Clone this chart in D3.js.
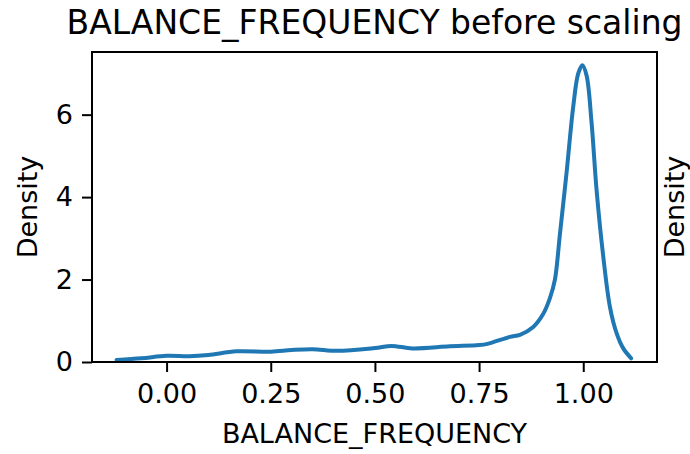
<!DOCTYPE html>
<html>
<head>
<meta charset="utf-8">
<script src="https://cdn.jsdelivr.net/npm/d3@7"></script>
<style>
  body { margin: 0; background: #fff; }
  svg { display: block; }
  text { font-family: "DejaVu Sans", sans-serif; fill: #000; }
</style>
</head>
<body>
<div id="chart"></div>
<script>
// kde curve
const xs = [-0.12, -0.06, 0.00, 0.055, 0.10, 0.168, 0.25, 0.30, 0.35, 0.41, 0.50, 0.54, 0.59, 0.68, 0.75, 0.77,
  0.824, 0.848, 0.88, 0.903, 0.92, 0.932, 0.944, 0.96, 0.976, 0.988, 0.998, 1.008, 1.02, 1.032, 1.048, 1.064,
  1.08, 1.096, 1.115]
const density = [0.05, 0.09, 0.15, 0.14, 0.17, 0.26, 0.25, 0.29, 0.31, 0.27, 0.34, 0.39, 0.33, 0.38, 0.41, 0.44,
  0.61, 0.66, 0.85, 1.15, 1.55, 2.0, 3.1, 4.6, 6.2, 7.0, 7.2, 6.95, 5.8, 4.17, 2.56, 1.34,
  0.70, 0.33, 0.09]
const xTicks = [0, 0.25, 0.5, 0.75, 1.0]
const yTicks = [0, 2, 4, 6]

const title = 'BALANCE_FREQUENCY before scaling'
const xLabel = 'BALANCE_FREQUENCY'
const yLabel = 'Density'

let width = 690
let height = 454
let margin = {top: 52, right: 33, bottom: 92, left: 92}
let innerW = width - margin.left - margin.right
let innerH = height - margin.top - margin.bottom

let x = d3.scaleLinear().domain([-0.179, 1.177]).range([0, innerW])
let y = d3.scaleLinear().domain([0, 7.52]).range([innerH, 0])

let svg = d3.select('#chart').append('svg')
    .attr('width', width)
    .attr('height', height)

let g = svg.append('g')
    .attr('transform', 'translate(' + margin.left + ',' + margin.top + ')')

let pts = xs.map((v, i) => [v, density[i]])

let line = d3.line()
    .x(d => x(d[0]))
    .y(d => y(d[1]))
    .curve(d3.curveCatmullRom.alpha(0.5))

g.append('path')
    .datum(pts)
    .attr('fill', 'none')
    .attr('stroke', '#1f77b4')
    .attr('stroke-width', 4)
    .attr('stroke-linejoin', 'round')
    .attr('stroke-linecap', 'round')
    .attr('d', line)

// axes
let xAxis = d3.axisBottom(x).tickValues(xTicks).tickFormat(d3.format('.2f'))
    .tickSize(10).tickSizeOuter(0).tickPadding(12)
let yAxis = d3.axisLeft(y).tickValues(yTicks).tickFormat(d3.format('d'))
    .tickSize(10).tickSizeOuter(0).tickPadding(9)

let gx = g.append('g')
    .attr('transform', 'translate(0,' + innerH + ')')
    .call(xAxis)
let gy = g.append('g').call(yAxis)

for (let a of [gx, gy]) {
  a.select('.domain').remove()
  a.selectAll('line').attr('stroke', '#000').attr('stroke-width', 2)
  a.selectAll('text').style('font-size', '27px').attr('fill', '#000')
}

// frame
g.append('rect')
    .attr('width', innerW)
    .attr('height', innerH)
    .attr('fill', 'none')
    .attr('stroke', '#000')
    .attr('stroke-width', 2)

svg.append('text')
    .attr('x', margin.left + innerW / 2)
    .attr('y', 34)
    .attr('text-anchor', 'middle')
    .style('font-size', '33px')
    .text(title)

svg.append('text')
    .attr('x', margin.left + innerW / 2)
    .attr('y', 443)
    .attr('text-anchor', 'middle')
    .style('font-size', '27px')
    .text(xLabel)

svg.append('text')
    .attr('transform', 'translate(37,' + (margin.top + innerH / 2) + ')rotate(-90)')
    .attr('text-anchor', 'middle')
    .style('font-size', '27px')
    .text(yLabel)

// label of the neighbouring subplot at the right edge
svg.append('text')
    .attr('transform', 'translate(684,' + (margin.top + innerH / 2) + ')rotate(-90)')
    .attr('text-anchor', 'middle')
    .style('font-size', '27px')
    .text(yLabel)
</script>
</body>
</html>
